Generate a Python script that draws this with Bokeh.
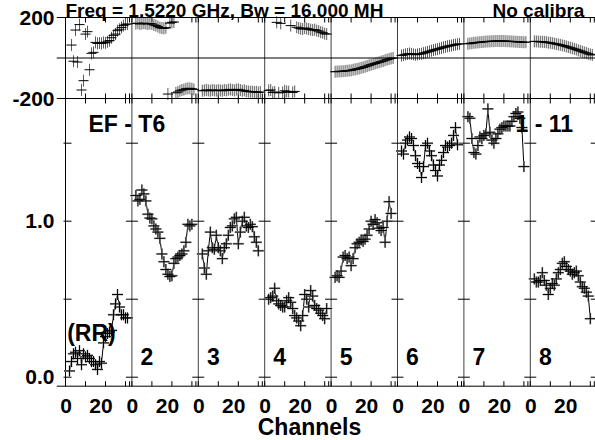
import numpy as np
from bokeh.plotting import figure
from bokeh.models import (Range1d, LinearAxis, FixedTicker, CustomJSTickFormatter, Span, Label)
from bokeh.embed import file_html
from bokeh.resources import INLINE

# ---------------- data ----------------
CHANNELS = list(range(2, 32))          # channels plotted in every IF panel
IF_LABELS = ["(RR)", "2", "3", "4", "5", "6", "7", "8"]

AMP_IF1 = [0.04, 0.10, 0.15, 0.16, 0.12, 0.17, 0.08, 0.15, 0.13, 0.14, 0.12, 0.10, 0.10, 0.08, 0.05,
           0.10, 0.09, 0.22, 0.26, 0.28, 0.29, 0.30, 0.40, 0.47, 0.53, 0.45, 0.40, 0.40, 0.38, 0.38]
AMP_IF2 = [1.165, 1.13, 1.14, 1.20, 1.175, 1.13, 1.045, 1.02, 1.015, 0.97, 0.95, 0.93, 0.89, 0.79, 0.74,
           0.69, 0.66, 0.645, 0.65, 0.73, 0.76, 0.77, 0.78, 0.79, 0.81, 0.865, 0.98, 0.97, 0.98, None]
AMP_IF3 = [0.79, 0.70, 0.66, 0.81, 0.93, 0.83, 0.82, 0.91, 0.83, 0.81, 0.76, 0.83, 0.855, 0.91, 0.96,
           0.97, 1.015, 1.025, 0.855, 0.93, 1.00, 1.025, 0.97, 0.96, 0.98, 0.965, 0.90, 0.865, 0.81, None]
AMP_IF4 = [0.50, 0.51, 0.52, 0.57, 0.49, 0.47, 0.46, 0.45, 0.45, 0.49, 0.51, 0.48, 0.44, 0.395, 0.38,
           0.36, 0.33, 0.395, 0.53, 0.50, 0.45, 0.555, 0.52, 0.46, 0.44, 0.43, 0.41, 0.395, 0.375, 0.44]
AMP_IF5 = [0.64, 0.65, 0.64, 0.68, 0.77, 0.78, 0.76, 0.77, 0.715, 0.76, 0.83, 0.855, 0.865, 0.88, 0.87,
           0.885, 0.91, 0.95, 1.00, 0.98, 1.01, 0.99, 0.955, 0.94, 0.96, 0.865, 1.00, 1.125, 1.05, None]
AMP_IF6 = [1.45, 1.43, 1.50, 1.52, 1.54, 1.53, 1.485, 1.42, 1.37, 1.35, 1.28, 1.35, 1.485, 1.50, 1.45,
           1.42, 1.36, 1.325, 1.29, 1.36, 1.39, 1.44, 1.485, 1.475, 1.485, 1.50, 1.55, 1.60, 1.49, None]
AMP_IF7 = [1.67, 1.66, 1.53, 1.44, 1.43, 1.485, 1.54, 1.53, 1.55, 1.56, 1.72, 1.57, 1.52, 1.50, 1.53,
           1.56, 1.59, 1.60, 1.61, 1.61, 1.61, 1.61, 1.64, 1.67, 1.69, 1.70, 1.66, 1.60, 1.35, None]
AMP_IF8 = [0.63, 0.61, 0.61, 0.62, 0.67, 0.62, 0.59, 0.53, 0.57, 0.60, 0.59, 0.63, 0.67, 0.69, 0.73,
           0.74, 0.71, 0.69, 0.68, 0.66, 0.67, 0.68, 0.65, 0.61, 0.58, 0.57, 0.545, 0.52, 0.375, None]

PH_IF1 = [None, 64, -16, 138, -20, 165, -158, -112, 118, 130, -58, 23, 28, 77, 72,
          74, 72, 77, 75, 80, 86, 100, 112, 118, 135, 142, 151, 160, 166, 168]
PH_IF2 = [170, 172, 168, 170, 172, 170, 168, 170, 168, 163, 160, 155, 150, 148, 146,
          150, -178, 172, 176, 178, -172, -168, -162, -158, -156, -152, -150, -150, -152, -155]
PH_IF3 = [-162, -160, -158, -160, -162, -158, -160, -161, -159, -160, -162, -158, -160, -157, -155,
          -158, -160, -156, -155, -158, -162, -160, -164, -165, -167, -166, -168, -167, -170, -168]
PH_IF4 = [-160, -158, -170, -168, 176, -172, 171, -170, -162, -165, -166, 160, -170, -165, 152,
          148, 145, 143, 148, 145, 143, 140, 138, 140, 135, 133, 128, 125, 120, 118]
PH_IF5 = [-68, -67, -66, -66, -65, -64, -63, -62, -61, -58, -56, -54, -52, -49, -46,
          -43, -40, -36, -33, -30, -27, -24, -21, -18, -15, -11, -8, -5, -2, 0]
PH_IF6 = [12, 15, 18, 20, 22, 20, 18, 16, 18, 20, 21, 24, 27, 30, 33,
          36, 39, 42, 44, 47, 50, 53, 55, 58, 60, 62, 64, 66, 68, 70]
PH_IF7 = [70, 72, 73, 75, 76, 77, 78, 79, 80, 81, 82, 82, 83, 83, 84,
          84, 84, 84, 84, 83, 83, 82, 82, 81, 80, 80, 79, 79, 78, 78]
PH_IF8 = [82, 82, 81, 80, 80, 79, 78, 76, 75, 73, 71, 69, 67, 65, 62,
          60, 57, 54, 51, 48, 45, 42, 38, 35, 31, 28, 25, 21, 18, 15]

AMPS = [AMP_IF1, AMP_IF2, AMP_IF3, AMP_IF4, AMP_IF5, AMP_IF6, AMP_IF7, AMP_IF8]
PHASES = [PH_IF1, PH_IF2, PH_IF3, PH_IF4, PH_IF5, PH_IF6, PH_IF7, PH_IF8]

AMP_TICKS = [0.0, 1.0]
AMP_MINOR_TICKS = [0.5, 1.5]
PHASE_TICKS = [-200, 200]
CH_LABEL_TICKS = [0, 20]
CH_LABELS = ["0", "20"]
CH_MINOR_TICKS = [10, 30, 32]

TITLE = "Freq = 1.5220 GHz, Bw = 16.000 MH"
TITLE2 = "No calibra"
BASELINE = "EF - T6"
BASELINE2 = "1 - 11"
XLABEL = "Channels"

# ---------------- layout (canvas pixels, origin top-left) ----------------
N_IF = 8
PANEL_W = 33.2                      # channel units per IF panel
W, H = 595, 440
BL = 56                             # canvas x of the frame's left edge
X0_PX = 65                          # canvas x of channel 0 of IF 1 (left frame line)
PX_PER_CH = 2.0
x_per_px = 1.0 / PX_PER_CH
X_RANGE = (-(X0_PX - BL) * x_per_px, (W - X0_PX) * x_per_px)
def x_at(px):
    return (px - X0_PX) * x_per_px

AMP0_PX, PX_PER_AMP = 376.7, 156.0  # amplitude strip scale
BOT_PX = 385.7                      # bottom frame line
def amp_at(py):
    return (AMP0_PX - py) / PX_PER_AMP
AMP_RANGE = (amp_at(H), amp_at(0))

PH_TOP_PX, PH_BOT_PX = 17.0, 98.0   # phase strip: +200 .. -200
deg_per_px = 400.0 / (PH_BOT_PX - PH_TOP_PX)
def ph_at(py):
    return 200.0 - (py - PH_TOP_PX) * deg_per_px
PH_RANGE = (ph_at(H), ph_at(0))

def amp_of_phase(ph):
    return AMP_RANGE[0] + (ph - PH_RANGE[0]) / (PH_RANGE[1] - PH_RANGE[0]) * (AMP_RANGE[1] - AMP_RANGE[0])

FONT = "Liberation Sans"
LABEL_SHIFT = 0.38                  # label anchor correction (fraction of font size)

p = figure(width=W, height=H, output_backend="svg", toolbar_location=None,
           x_range=Range1d(*X_RANGE), y_range=Range1d(*AMP_RANGE),
           x_axis_location=None, y_axis_location=None,
           min_border_left=BL, min_border_right=0, min_border_top=0, min_border_bottom=0)
p.extra_y_ranges = {"phase": Range1d(*PH_RANGE)}
p.grid.visible = False
p.outline_line_color = None
p.background_fill_color = "white"
p.border_fill_color = "white"

# ---- left axis: amplitude labels plus phase labels of the upper strip ----
split = amp_of_phase(-200) - 0.01
left_ticks = AMP_TICKS + [amp_of_phase(t) for t in PHASE_TICKS]
left_fmt = CustomJSTickFormatter(
    args=dict(split=split, alo=AMP_RANGE[0], ahi=AMP_RANGE[1], plo=PH_RANGE[0], phi=PH_RANGE[1]),
    code="""
    if (tick > split) {
        const ph = plo + (tick - alo) / (ahi - alo) * (phi - plo);
        return Math.round(ph).toString();
    }
    return tick.toFixed(1);
    """)
yax = LinearAxis(ticker=FixedTicker(ticks=left_ticks), formatter=left_fmt)
yax.major_tick_in = 0
yax.major_tick_out = 0
yax.minor_tick_in = 0
yax.minor_tick_out = 0
yax.axis_line_color = None
yax.major_tick_line_color = None
yax.minor_tick_line_color = None
yax.major_label_standoff = 2
yax.major_label_text_font = FONT
yax.major_label_text_font_style = "bold"
yax.major_label_text_font_size = "21px"
yax.major_label_text_color = "black"
p.add_layout(yax, "left")

# ---- frame lines ----
y_bot, y_top = amp_at(BOT_PX), amp_of_phase(200)
p.add_layout(Span(location=200, dimension="width", y_range_name="phase", line_color="black", line_width=1))
p.add_layout(Span(location=-200, dimension="width", y_range_name="phase", line_color="black", line_width=1))
p.add_layout(Span(location=0, dimension="width", y_range_name="phase", line_color="black", line_width=1))
p.add_layout(Span(location=y_bot, dimension="width", line_color="black", line_width=1))
p.segment(x0=[0], x1=[0], y0=[y_bot], y1=[y_top], line_color="black", line_width=1)
bounds_x = [k * PANEL_W for k in range(1, N_IF)]
p.segment(x0=bounds_x, x1=bounds_x, y0=[y_bot] * len(bounds_x),
          y1=[y_top] * len(bounds_x), line_color="#404040", line_width=1)

TICK_PX = 5
xt_major = [k * PANEL_W + c for k in range(N_IF) for c in CH_LABEL_TICKS]
xt_minor = [k * PANEL_W + c for k in range(N_IF) for c in CH_MINOR_TICKS]
all_xt = xt_major + xt_minor
n = len(all_xt)
# ticks hanging from the top frame
p.segment(x0=all_xt, x1=all_xt, y0=[200] * n, y1=[200 - TICK_PX * deg_per_px] * n,
          y_range_name="phase", line_color="black", line_width=1)
# ticks on both sides of the strip boundary
p.segment(x0=all_xt, x1=all_xt,
          y0=[-200 - TICK_PX * deg_per_px] * n, y1=[-200 + TICK_PX * deg_per_px] * n,
          y_range_name="phase", line_color="black", line_width=1)
# ticks standing on the bottom frame
p.segment(x0=all_xt, x1=all_xt, y0=[y_bot] * n, y1=[amp_at(BOT_PX - TICK_PX)] * n,
          line_color="black", line_width=1)
# amplitude ticks on the left frame and at panel boundaries
amp_t = AMP_TICKS + AMP_MINOR_TICKS
p.segment(x0=[-2 * x_per_px] * len(amp_t), x1=[6 * x_per_px] * len(amp_t), y0=amp_t, y1=amp_t,
          line_color="black", line_width=1)
bx, by = [], []
for k in range(1, N_IF + 1):
    for t in amp_t:
        bx.append(k * PANEL_W)
        by.append(t)
bx = np.array(bx)
p.segment(x0=bx - 6 * x_per_px, x1=bx + 6 * x_per_px, y0=by, y1=by, line_color="black", line_width=1)

# ---- data ----
ch = np.array(CHANNELS, dtype=float)
for k in range(N_IF):
    x = k * PANEL_W + ch
    amp = np.array(AMPS[k], dtype=float)
    ph = np.array(PHASES[k], dtype=float)
    p.line(x, amp, line_color="black", line_width=1)
    p.scatter(x, amp, marker="cross", size=11, line_color="#b4b4b4", line_width=2)
    p.scatter(x, amp, marker="cross", size=11, line_color="black", line_width=1)
    p.scatter(x, ph, marker="dash", angle=np.pi / 2, size=12, line_color="#5c5c5c",
              line_width=1, y_range_name="phase")
    p.scatter(x, ph, marker="dash", size=10, line_color="black", line_width=1,
              y_range_name="phase")

# ---- texts (py = wanted baseline in canvas pixels) ----
def lab(text, x, py, size_px, align="left", rng="default"):
    anchor = py - LABEL_SHIFT * size_px
    y = ph_at(anchor) if rng == "phase" else amp_at(anchor)
    p.add_layout(Label(x=x, y=y, text=text, y_range_name=rng,
                       text_font=FONT, text_font_style="bold", text_font_size=f"{size_px}px",
                       text_color="black", text_align=align, text_baseline="alphabetic"))

lab(TITLE, 0.0, 17.5, 19, rng="phase")
lab(TITLE2, x_at(492), 17.5, 19, rng="phase")
lab(BASELINE, x_at(88), 132, 23)
lab(BASELINE2, x_at(515), 132, 23)
lab(IF_LABELS[0], x_at(66.7), 341, 23)
for k in range(1, N_IF):
    lab(IF_LABELS[k], k * PANEL_W + 8.6 * x_per_px, 365, 23)

# channel tick labels under every panel
LABEL_DX_PX = {0: 0.5, 20: -4.5}
for k in range(N_IF):
    for c, t in zip(CH_LABEL_TICKS, CH_LABELS):
        lab(t, k * PANEL_W + c + LABEL_DX_PX[c] * x_per_px, 413, 21, align="center")
lab(XLABEL, x_at(309), 435, 23, align="center")

open("out.html", "w").write(file_html(p, INLINE))
